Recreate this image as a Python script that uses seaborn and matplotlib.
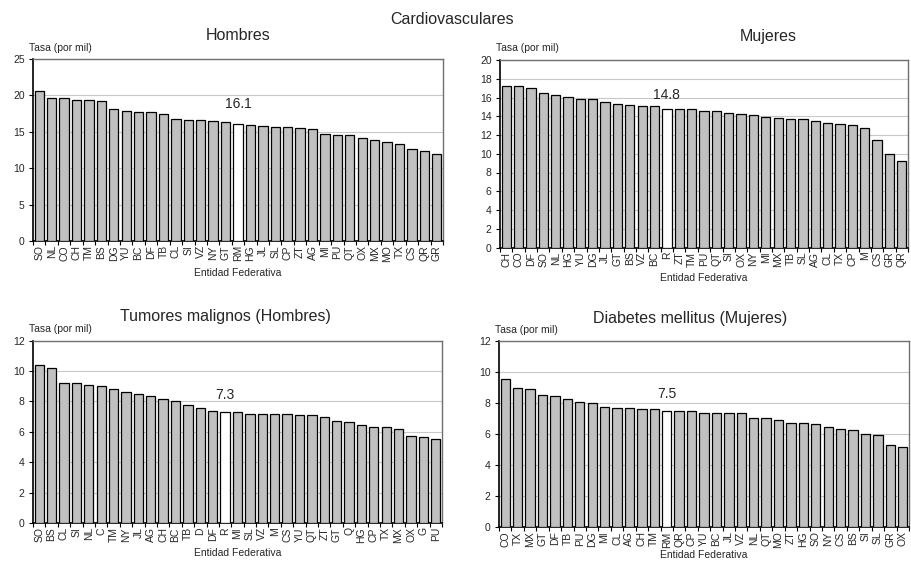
import matplotlib
matplotlib.use("Agg")
import matplotlib.pyplot as plt
import seaborn as sns
import pandas as pd
import numpy as np

# --- Data: mortality rates (per thousand) by federal entity ---
cardio_h_states = ["SO", "NL", "CO", "CH", "TM", "BS", "DG", "YU", "BC", "DF", "TB",
                   "CL", "SI", "VZ", "NY", "GT", "RM", "HG", "JL", "SL", "CP", "ZT",
                   "AG", "MI", "PU", "QT", "OX", "MX", "MO", "TX", "CS", "QR", "GR"]
cardio_h_values = [20.6, 19.7, 19.6, 19.4, 19.3, 19.2, 18.1, 17.9, 17.7, 17.7, 17.4,
                   16.8, 16.6, 16.6, 16.5, 16.3, 16.1, 15.9, 15.8, 15.7, 15.7, 15.5,
                   15.4, 14.7, 14.5, 14.5, 14.2, 13.9, 13.6, 13.3, 12.7, 12.4, 11.9]

cardio_m_states = ["CH", "CO", "DF", "SO", "NL", "HG", "YU", "DG", "JL", "GT", "BS",
                   "VZ", "BC", "R", "ZT", "TM", "PU", "QT", "SI", "OX", "NY", "MI",
                   "MX", "TB", "SL", "AG", "CL", "TX", "CP", "M", "CS", "GR", "QR"]
cardio_m_values = [17.2, 17.2, 17.0, 16.5, 16.3, 16.1, 15.85, 15.85, 15.5, 15.3, 15.25,
                   15.1, 15.05, 14.8, 14.8, 14.8, 14.6, 14.6, 14.3, 14.2, 14.1, 13.9,
                   13.85, 13.75, 13.75, 13.5, 13.3, 13.2, 13.1, 12.8, 11.45, 10.0, 9.2]

tumor_h_states = ["SO", "BS", "CL", "SI", "NL", "C", "TM", "NY", "JL", "AG", "CH",
                  "BC", "TB", "D", "DF", "R", "MI", "SL", "VZ", "M", "CS", "YU",
                  "QT", "ZT", "GT", "Q", "HG", "CP", "TX", "MX", "OX", "G", "PU"]
tumor_h_values = [10.4, 10.2, 9.2, 9.2, 9.1, 9.0, 8.8, 8.65, 8.5, 8.35, 8.15,
                  8.05, 7.8, 7.55, 7.35, 7.3, 7.3, 7.2, 7.2, 7.15, 7.15, 7.1,
                  7.1, 7.0, 6.7, 6.65, 6.45, 6.35, 6.3, 6.2, 5.7, 5.65, 5.5]

diab_m_states = ["CO", "TX", "MX", "GT", "DF", "TB", "PU", "DG", "MI", "CL", "AG",
                 "CH", "TM", "RM", "QR", "CP", "YU", "BC", "JL", "VZ", "NL", "QT",
                 "MO", "ZT", "HG", "SO", "NY", "CS", "BS", "SI", "SL", "GR", "OX"]
diab_m_values = [9.6, 9.0, 8.95, 8.55, 8.45, 8.25, 8.1, 8.05, 7.75, 7.7, 7.7,
                 7.65, 7.65, 7.5, 7.5, 7.5, 7.4, 7.4, 7.4, 7.4, 7.05, 7.05,
                 6.95, 6.7, 6.7, 6.65, 6.5, 6.35, 6.3, 6.0, 5.95, 5.3, 5.2]

panels = [
    # (states, values, national code, title, ymax, ystep, axes rect in px,
    #  title xy, value-label offset, x-label pad)
    (cardio_h_states, cardio_h_values, "RM", "Hombres", 25, 5,
     (33, 59, 443, 241), (238, 35), 9, 4),
    (cardio_m_states, cardio_m_values, "R", "Mujeres", 20, 2,
     (500, 60, 908, 247.5), (768, 37), 5, 4),
    (tumor_h_states, tumor_h_values, "R", "Tumores malignos (Hombres)", 12, 2,
     (33, 340.7, 442, 523), (225, 317), 7, 4),
    (diab_m_states, diab_m_values, "RM", "Diabetes mellitus (Mujeres)", 12, 2,
     (499, 341.3, 909, 527.3), (690, 318), 7, 1),
]

W, H = 912, 562
sns.set_theme(style="white")
plt.rcParams["font.family"] = ["Liberation Sans", "DejaVu Sans"]

fig = plt.figure(figsize=(W / 100, H / 100), dpi=100)
fig.text(452 / W, 1 - 20 / H, "Cardiovasculares", ha="center", va="center", fontsize=11.5)

for states, values, nat, title, ymax, ystep, (x0, y0, x1, y1), (tx, ty), off, xpad in panels:
    ax = fig.add_axes([x0 / W, 1 - y1 / H, (x1 - x0) / W, (y1 - y0) / H])
    df = pd.DataFrame({"Entidad": states, "Tasa": values})
    df["grupo"] = np.where(df["Entidad"] == nat, "nacional", "estado")
    sns.barplot(data=df, x="Entidad", y="Tasa", hue="grupo", order=states,
                palette={"estado": "#c0c0c0", "nacional": "#ffffff"},
                dodge=False, width=0.75, edgecolor="black", linewidth=0.9,
                legend=False, ax=ax, zorder=3)

    ax.set_xlim(-0.5, len(states) - 0.5)
    ax.set_ylim(0, ymax)
    ax.set_yticks(np.arange(0, ymax + 0.01, ystep))
    ax.yaxis.grid(True, color="#c8c8c8", linewidth=0.8, zorder=0)
    ax.set_axisbelow(True)

    # category separators as outward ticks
    ax.set_xticks(np.arange(len(states)))
    ax.set_xticklabels(states, rotation=90, fontsize=7.5)
    ax.set_xticks(np.arange(len(states) + 1) - 0.5, minor=True)
    ax.tick_params(axis="x", which="major", length=0, pad=3)
    ax.tick_params(axis="x", which="minor", length=3, width=0.8, color="black",
                   direction="out", bottom=True)
    ax.tick_params(axis="y", length=3, width=0.8, color="black", direction="out",
                   labelsize=7.5, pad=3, left=True)

    for side in ("left", "bottom"):
        ax.spines[side].set_color("black")
        ax.spines[side].set_linewidth(1.2)
    for side in ("top", "right"):
        ax.spines[side].set_color("#707070")
        ax.spines[side].set_linewidth(1.0)

    ax.set_ylabel("")
    ax.set_xlabel("Entidad Federativa", fontsize=7.5, labelpad=xpad)
    ax.text(-0.01, 1.035, "Tasa (por mil)", transform=ax.transAxes, fontsize=7.5,
            ha="left", va="bottom")

    i = states.index(nat)
    ax.annotate(f"{values[i]:.1f}", (i, values[i]), xytext=(0, off),
                textcoords="offset points", ha="center", va="bottom", fontsize=10)

    fig.text(tx / W, 1 - ty / H, title, ha="center", va="center", fontsize=11.5)

fig.savefig("out.png", dpi=100, facecolor="white")
